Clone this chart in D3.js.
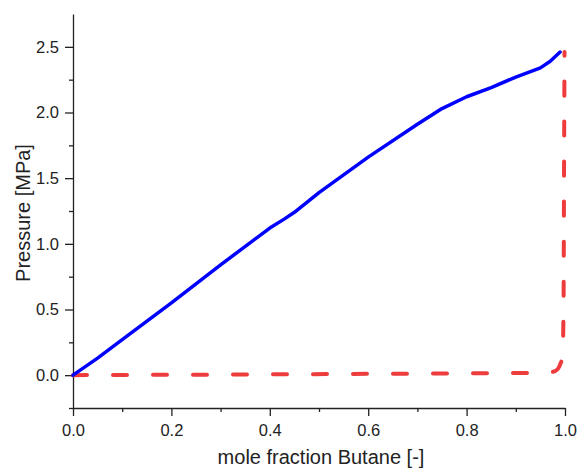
<!DOCTYPE html>
<head>
<meta charset="utf-8">
<title>Pxy Butane</title>
<style>
  body { margin: 0; background: #fff; }
  text { font-family: "Liberation Sans", Arial, sans-serif; fill: #222; }
</style>
</head>
<body>
<svg width="579" height="474"></svg>
<script src="https://cdn.jsdelivr.net/npm/d3@7"></script>
<script>
// bubble line (solid blue)
var xBubble = [0, 0.05, 0.1, 0.2, 0.3, 0.4, 0.43, 0.45, 0.5, 0.6, 0.7, 0.75, 0.8, 0.85, 0.9, 0.95, 0.97, 0.99];
var pBubble = [0, 0.13, 0.27, 0.55, 0.84, 1.12, 1.19, 1.24, 1.39, 1.66, 1.91, 2.03, 2.12, 2.19, 2.27, 2.34, 2.39, 2.46];
// dew line (dashed red)
var xDew = [0, 0.2, 0.4, 0.6, 0.8, 0.9, 0.95, 0.975, 0.985, 0.99, 0.995, 0.997, 0.998, 0.999];
var pDew = [0, 0.003, 0.006, 0.01, 0.014, 0.016, 0.018, 0.025, 0.045, 0.08, 0.15, 0.5, 1.5, 2.46];

var xTicks = [0, 0.2, 0.4, 0.6, 0.8, 1.0];
var yTicks = [0, 0.5, 1.0, 1.5, 2.0, 2.5];

var svg = d3.select("svg"),
    padL = 73, padR = 565, padT = 14, padB = 408;

var x = d3.scaleLinear().domain([0, 1]).range([padL, padR]);
var y = d3.scaleLinear().domain([-0.25, 2.75]).range([padB, padT]);

// minor ticks first
svg.append("g")
    .attr("transform", "translate(0," + padB + ")")
    .call(d3.axisBottom(x).tickValues(d3.range(0.1, 1, 0.2)).tickSize(4).tickFormat(""))
    .call(function(g) { g.select(".domain").remove(); });
svg.append("g")
    .attr("transform", "translate(" + padL + ",0)")
    .call(d3.axisLeft(y).tickValues([-0.25, 0.25, 0.75, 1.25, 1.75, 2.25]).tickSize(4).tickFormat(""))
    .call(function(g) { g.select(".domain").remove(); });

var xAxis = svg.append("g")
    .attr("transform", "translate(0," + padB + ")")
    .call(d3.axisBottom(x).tickValues(xTicks).tickSize(8).tickSizeOuter(0).tickFormat(d3.format(".1f")));
xAxis.selectAll("text").attr("font-size", 16.5).attr("y", 16).attr("dy", "0.71em");

var yAxis = svg.append("g")
    .attr("transform", "translate(" + padL + ",0)")
    .call(d3.axisLeft(y).tickValues(yTicks).tickSize(8).tickSizeOuter(0).tickFormat(d3.format(".1f")));
yAxis.selectAll("text").attr("font-size", 16.5).attr("x", -14);

svg.selectAll(".domain").attr("stroke", "#222").attr("stroke-width", 1.3);
svg.selectAll(".tick line").attr("stroke", "#222").attr("stroke-width", 1.3);

var line = d3.line()
    .x(function(d) { return x(d[0]); })
    .y(function(d) { return y(d[1]); });

svg.append("path")
    .datum(d3.zip(xDew, pDew))
    .attr("d", line.curve(d3.curveMonotoneX))
    .attr("fill", "none")
    .attr("stroke", "#ee3b3b")
    .attr("stroke-width", 4)
    .attr("stroke-linecap", "round")
    .attr("stroke-dasharray", "14,26");

svg.append("path")
    .datum(d3.zip(xBubble, pBubble))
    .attr("d", line.curve(d3.curveLinear))
    .attr("fill", "none")
    .attr("stroke", "#0000ff")
    .attr("stroke-width", 3.5)
    .attr("stroke-linejoin", "round")
    .attr("stroke-linecap", "round");

svg.append("text")
    .attr("x", 321)
    .attr("y", 464)
    .attr("text-anchor", "middle")
    .attr("font-size", 20)
    .text("mole fraction Butane [-]");

svg.append("text")
    .attr("transform", "translate(30,213) rotate(-90)")
    .attr("text-anchor", "middle")
    .attr("font-size", 20)
    .text("Pressure [MPa]");
</script>
</body>
